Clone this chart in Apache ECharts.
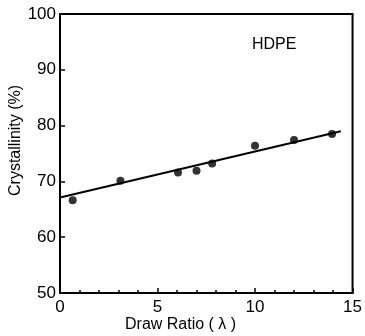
<!DOCTYPE html>
<html>
<head>
<meta charset="utf-8">
<script src="https://cdn.jsdelivr.net/npm/echarts@6/dist/echarts.min.js"></script>
<style>
  html, body { margin: 0; padding: 0; background: #fff; }
  #chart { width: 365px; height: 336px; }
</style>
</head>
<body>
<div id="chart"></div>
<script>
// measured points (draw ratio, crystallinity %)
const drawRatio = [0.65, 3.1, 6.05, 7.0, 7.8, 10.0, 12.0, 13.95]
const crystallinity = [66.6, 70.1, 71.6, 71.9, 73.2, 76.4, 77.4, 78.5]

// straight fit line ends
const fitX = [0, 14.4]
const fitY = [67.1, 79.0]

const xTicks = [0, 5, 10, 15]
const yTicks = [50, 60, 70, 80, 90, 100]

const font = 'Liberation Sans, Arial, sans-serif'

const chart = echarts.init(document.getElementById('chart'))

const option = {
    animation: false,
    grid: {
        left: 60,
        right: 12,
        top: 14,
        bottom: 43,
        show: true,
        borderColor: '#000',
        borderWidth: 2,
    },
    xAxis: {
        type: 'value',
        min: xTicks[0],
        max: xTicks[xTicks.length - 1],
        interval: 5,
        axisLine: { show: true, lineStyle: { color: '#000', width: 2 } },
        axisTick: { show: true, inside: true, length: 5, lineStyle: { color: '#000', width: 1.5 } },
        minorTick: { show: true, splitNumber: 5, length: 3, lineStyle: { color: '#000', width: 1.5 } },
        splitLine: { show: false },
        axisLabel: {
            color: '#000',
            fontFamily: font,
            fontSize: 17,
            margin: 6,
            showMaxLabel: true,
            showMinLabel: true,
        },
    },
    yAxis: {
        type: 'value',
        min: yTicks[0],
        max: yTicks[yTicks.length - 1],
        interval: 10,
        axisLine: { show: true, lineStyle: { color: '#000', width: 2 } },
        axisTick: { show: true, inside: true, length: 5, lineStyle: { color: '#000', width: 1.5 } },
        splitLine: { show: false },
        axisLabel: {
            color: '#000',
            fontFamily: font,
            fontSize: 17,
            margin: 4,
        },
    },
    graphic: [
        {
            type: 'text',
            left: 252,
            top: 37,
            style: { text: 'HDPE', fill: '#000', font: '16px ' + font },
        },
        {
            type: 'text',
            left: 125,
            top: 317,
            style: { text: 'Draw Ratio ( λ )', fill: '#000', font: '16px ' + font },
        },
        {
            type: 'text',
            x: 8,
            y: 196,
            rotation: Math.PI / 2,
            style: { text: 'Crystallinity (%)', fill: '#000', font: '16px ' + font },
        },
    ],
    series: [
        {
            type: 'scatter',
            data: drawRatio.map((x, i) => [x, crystallinity[i]]),
            symbol: 'circle',
            symbolSize: 8,
            itemStyle: { color: '#000' },
        },
        {
            type: 'line',
            data: fitX.map((x, i) => [x, fitY[i]]),
            showSymbol: false,
            lineStyle: { color: '#000', width: 2 },
        },
    ],
}

chart.setOption(option)
</script>
</body>
</html>
